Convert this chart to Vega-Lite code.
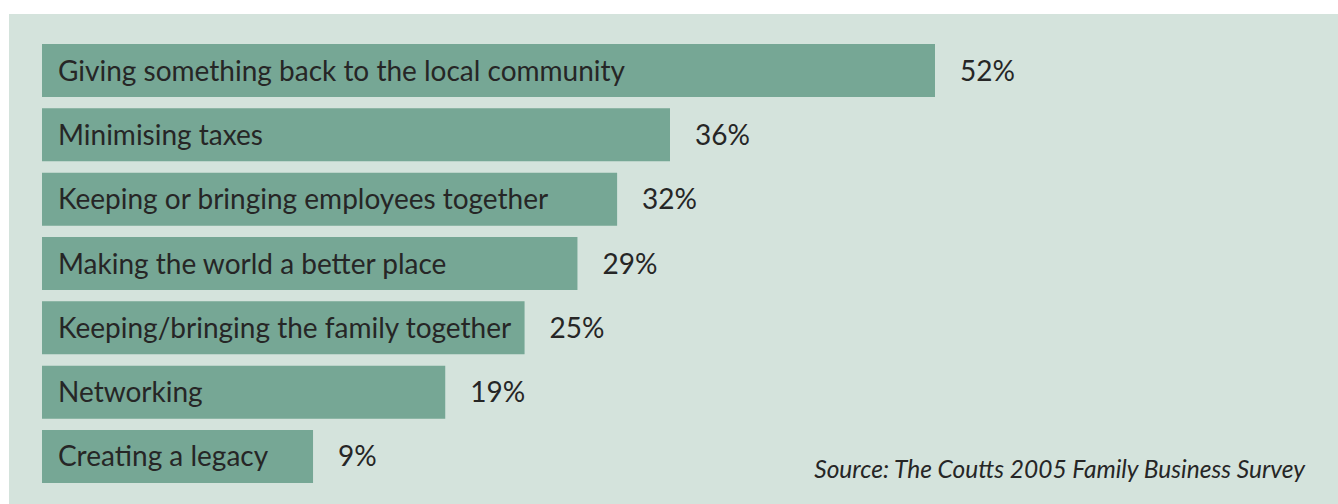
{
  "$schema": "https://vega.github.io/schema/vega-lite/v6.json",
  "width": 1329,
  "height": 490,
  "autosize": {"type": "none"},
  "padding": {"left": 9, "top": 14, "right": 0, "bottom": 0},
  "background": "#ffffff",
  "view": {"fill": "#d4e3dc", "stroke": null},
  "config": {"font": "Lato"},
  "title": {
    "text": "Source: The Coutts 2005 Family Business Survey",
    "orient": "bottom",
    "anchor": "end",
    "frame": "group",
    "offset": -26,
    "dx": -33,
    "baseline": "alphabetic",
    "font": "Lato",
    "fontSize": 24.5,
    "fontStyle": "italic",
    "fontWeight": "normal",
    "color": "#262626"
  },
  "data": {
    "values": [
      {"reason": "Giving something back to the local community", "share": 0.52},
      {"reason": "Minimising taxes", "share": 0.36},
      {"reason": "Keeping or bringing employees together", "share": 0.32},
      {"reason": "Making the world a better place", "share": 0.29},
      {"reason": "Keeping/bringing the family together", "share": 0.25},
      {"reason": "Networking", "share": 0.19},
      {"reason": "Creating a legacy", "share": 0.09}
    ]
  },
  "encoding": {
    "y": {
      "field": "reason",
      "type": "nominal",
      "sort": null,
      "axis": null,
      "scale": {"range": [30, 469], "paddingInner": 0.176, "paddingOuter": 0}
    }
  },
  "layer": [
    {
      "mark": {"type": "bar", "color": "#76a795"},
      "encoding": {
        "x": {
          "field": "share",
          "type": "quantitative",
          "axis": null,
          "scale": {"domain": [-0.115, 0.36, 0.52], "range": [33, 661, 926], "zero": false, "nice": false}
        },
        "x2": {"datum": -0.115}
      }
    },
    {
      "mark": {"type": "text", "align": "left", "baseline": "middle", "dx": 16, "dy": 2, "fontSize": 28, "color": "#262626"},
      "encoding": {
        "x": {"datum": -0.115, "type": "quantitative"},
        "text": {"field": "reason"}
      }
    },
    {
      "mark": {"type": "text", "align": "left", "baseline": "middle", "dx": 25, "dy": 2, "fontSize": 28, "color": "#262626"},
      "encoding": {
        "x": {"field": "share", "type": "quantitative"},
        "text": {"field": "share", "format": ".0%"}
      }
    }
  ]
}
